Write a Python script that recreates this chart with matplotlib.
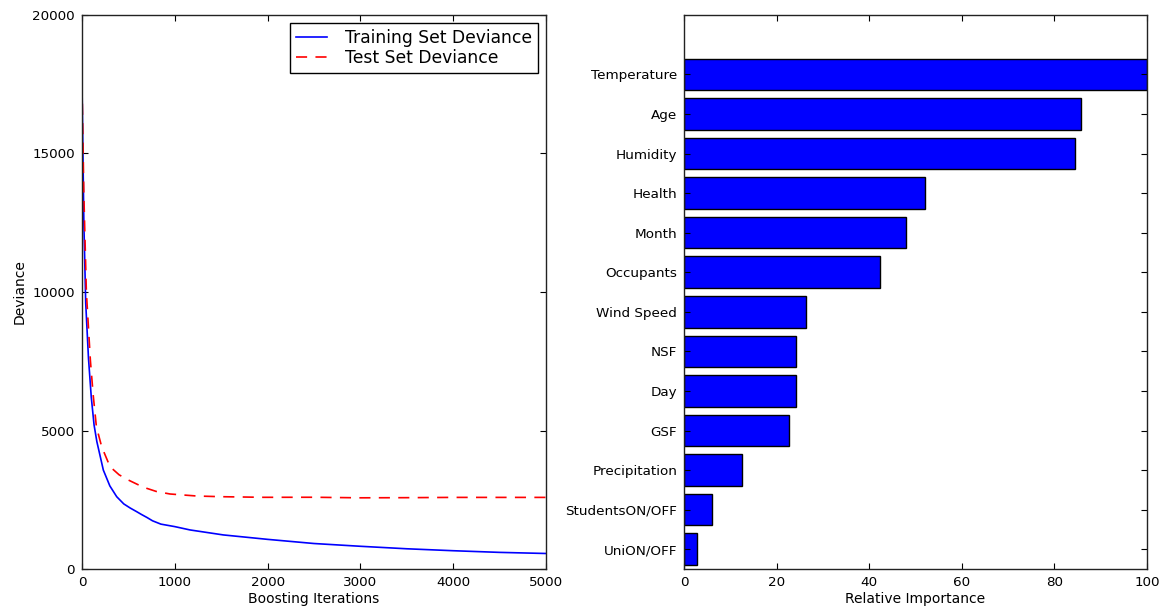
import numpy as np
import matplotlib
matplotlib.use("Agg")
import matplotlib.pyplot as plt

# Deviance curves (iteration, deviance)
train_iter = [0, 20, 40, 70, 100, 130, 160, 230, 300, 374, 450, 520, 589, 640,
              700, 760, 850, 1000, 1164, 1523, 2000, 2500, 3000, 3500, 4000,
              4500, 5000]
train_dev = [17500, 12500, 9600, 7600, 6200, 5200, 4600, 3570, 3000, 2610, 2350,
             2200, 2070, 1970, 1860, 1740, 1620, 1530, 1410, 1230, 1070, 920,
             820, 730, 660, 600, 560]

test_iter = [0, 20, 47, 90, 120, 155, 212, 302, 400, 499, 600, 697, 800, 948,
             1236, 1500, 1954, 2500, 3000, 3500, 4000, 4500, 5000]
test_dev = [17500, 13500, 10000, 7545, 6300, 5137, 4415, 3693, 3400, 3213, 3050,
            2913, 2800, 2708, 2635, 2610, 2588, 2590, 2570, 2575, 2585, 2585, 2585]

# Feature importances (bottom to top)
features = ["UniON/OFF", "StudentsON/OFF", "Precipitation", "GSF", "Day", "NSF",
            "Wind Speed", "Occupants", "Month", "Health", "Humidity", "Age",
            "Temperature"]
importance = [2.7, 6.0, 12.6, 22.6, 24.1, 24.1, 26.3, 42.3, 47.9, 52.1, 84.4,
              85.8, 100.0]

plt.rcParams.update({
    "font.family": "DejaVu Sans",
    "xtick.direction": "in",
    "ytick.direction": "in",
    "xtick.top": True,
    "ytick.right": True,
    "xtick.major.size": 4,
    "ytick.major.size": 4,
    "xtick.major.pad": 5,
    "ytick.major.pad": 5,
    "axes.linewidth": 1.0,
    "axes.edgecolor": "#222222",
    "lines.scale_dashes": False,
})

fig = plt.figure(figsize=(11.63, 6.12), dpi=100)
fig.patch.set_facecolor("white")

ax1 = fig.add_axes([82 / 1163, 1 - 569 / 612, 464 / 1163, 554 / 612])
ax2 = fig.add_axes([684 / 1163, 1 - 569 / 612, 463 / 1163, 554 / 612])

ax1.plot(train_iter, train_dev, color="#0000ff", lw=1.2, label="Training Set Deviance")
ax1.plot(test_iter, test_dev, color="#ff0000", lw=1.2, dashes=(8, 6),
         label="Test Set Deviance")
ax1.set_xlim(0, 5000)
ax1.set_ylim(0, 20000)
ax1.set_xticks(np.arange(0, 5001, 1000))
ax1.set_yticks(np.arange(0, 20001, 5000))
ax1.tick_params(labelsize=9.7)
ax1.set_xlabel("Boosting Iterations", fontsize=10, labelpad=2)
ax1.set_ylabel("Deviance", fontsize=10, labelpad=4)
leg = ax1.legend(loc="upper right", fontsize=12.3, fancybox=False, framealpha=1,
                 edgecolor="black", borderaxespad=0.45, handlelength=1.8,
                 handletextpad=1.1, borderpad=0.35, labelspacing=0.15)
leg.get_frame().set_linewidth(1.0)

pos = np.arange(len(features)) + 0.5
ax2.barh(pos, importance, height=0.8, align="center", color="#0000ff",
         edgecolor="black", linewidth=1.0)
ax2.set_yticks(pos)
ax2.set_yticklabels(features)
ax2.set_xlim(0, 100)
ax2.set_ylim(0, 14)
ax2.set_xticks(np.arange(0, 101, 20))
ax2.tick_params(labelsize=9.7)
ax2.set_xlabel("Relative Importance", fontsize=10, labelpad=2)

fig.savefig("out.png", dpi=100, facecolor="white")
